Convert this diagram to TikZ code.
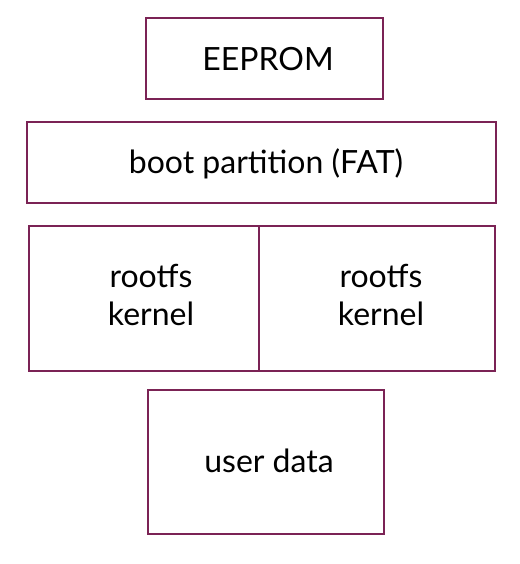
\documentclass[tikz,border=0pt]{standalone}
\usepackage{fontspec}
\setmainfont{Lato}
\definecolor{frame}{HTML}{7B2355}
\begin{document}
\begin{tikzpicture}[x=1pt,y=-1pt,
  part/.style={draw=frame,line width=1.5pt,fill=white},
  txt/.style={font=\fontsize{32}{38}\selectfont,align=center,text=black,inner sep=0pt}]
\useasboundingbox (0,0) rectangle (519,564);
\fill[white] (0,0) rectangle (519,564);
\node[part,minimum width=237pt,minimum height=81pt,label={[txt,xshift=3.5pt,yshift=-1pt]center:EEPROM}] (eeprom) at (264.5,58.5) {};
\node[part,minimum width=469pt,minimum height=81pt,label={[txt,xshift=4.5pt,yshift=-1pt]center:boot partition (FAT)}] (boot) at (261.5,162.5) {};
\node[part,minimum width=231pt,minimum height=145pt,label={[txt,xshift=6.5pt,yshift=4pt]center:{rootfs\\kernel}}] (rootA) at (144.5,298.5) {};
\node[part,minimum width=236pt,minimum height=145pt,label={[txt,xshift=4pt,yshift=4pt]center:{rootfs\\kernel}}] (rootB) at (377,298.5) {};
\node[part,minimum width=236pt,minimum height=144pt,label={[txt,xshift=3pt,yshift=1pt]center:user data}] (user) at (266,462) {};
\end{tikzpicture}
\end{document}
